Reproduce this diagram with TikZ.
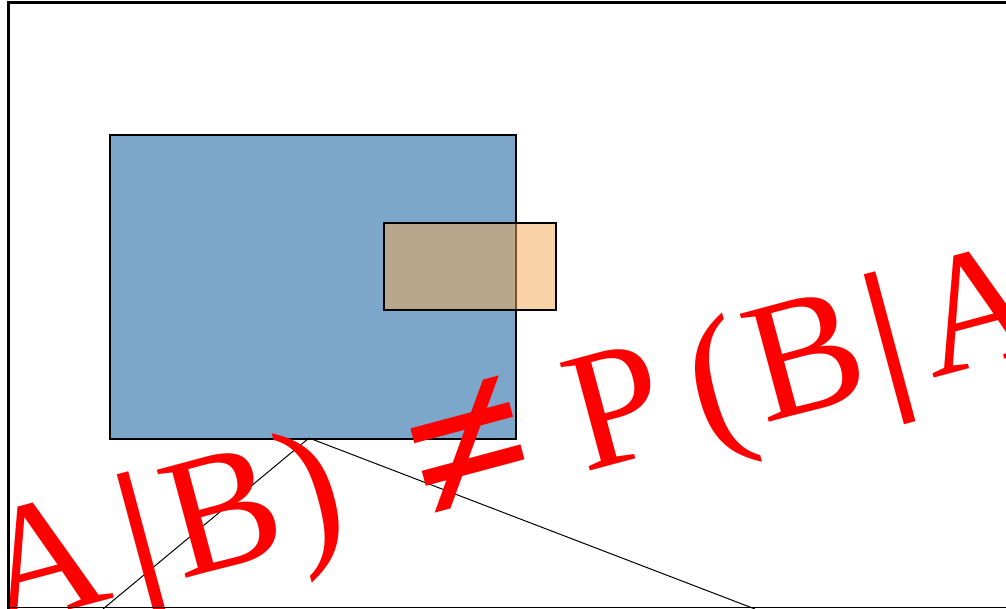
\documentclass[tikz,border=0pt]{standalone}
\usepackage{fontspec}
\newfontfamily\eqfont{Liberation Serif}
\newcommand\bigneq{\raisebox{-12pt}{\fontsize{165}{170}\selectfont\bfseries ≠}}
\newcommand\barsym{{\bfseries |}}
\begin{document}
\begin{tikzpicture}[x=0.75pt,y=-0.75pt,
  bluebox/.style={draw=black,line width=1.4pt,fill={rgb,255:red,70;green,130;blue,180},fill opacity=0.7,draw opacity=1},
  orangebox/.style={draw=black,line width=1.4pt,fill={rgb,255:red,245;green,167;blue,82},fill opacity=0.5,draw opacity=1},
  thinline/.style={draw=black,line width=0.75pt},
  bigtext/.style={text=red,font=\eqfont\fontsize{128}{150}\selectfont,inner sep=0pt,rotate=15,anchor=base west}]
\useasboundingbox (0,0) rectangle (1006,609);
\clip (0,0) rectangle (1006,609);
\fill[white] (0,0) rectangle (1006,609);
\node[bluebox,minimum width=406*0.75pt,minimum height=304*0.75pt,inner sep=0pt,anchor=north west] (blue) at (109,134) {};
\coordinate (pivot) at (309,438);
\coordinate (endL) at (103,609);
\coordinate (endR) at (755,609);
\draw[thinline] (pivot) -- (endL);
\draw[thinline] (pivot) -- (endR);
\node[orangebox,minimum width=172*0.75pt,minimum height=87*0.75pt,inner sep=0pt,anchor=north west] (orange) at (383,222) {};
\node[bigtext] (eq) at (-184,678) {P\hspace{21pt}(\hspace{5pt}A\hspace{16pt}\barsym\hspace{7.5pt}B\hspace{4pt})\hspace{56pt}\bigneq\hspace{34pt}P\hspace{21pt}(\hspace{5pt}B\hspace{6.5pt}\barsym\hspace{10pt}A\hspace{5pt})};
\draw[line width=1.6pt] (8.5,612) -- (8.5,2.5) -- (1010,2.5);
\draw[line width=1.2pt] (8.5,607.5) -- (1010,607.5);
\end{tikzpicture}
\end{document}
